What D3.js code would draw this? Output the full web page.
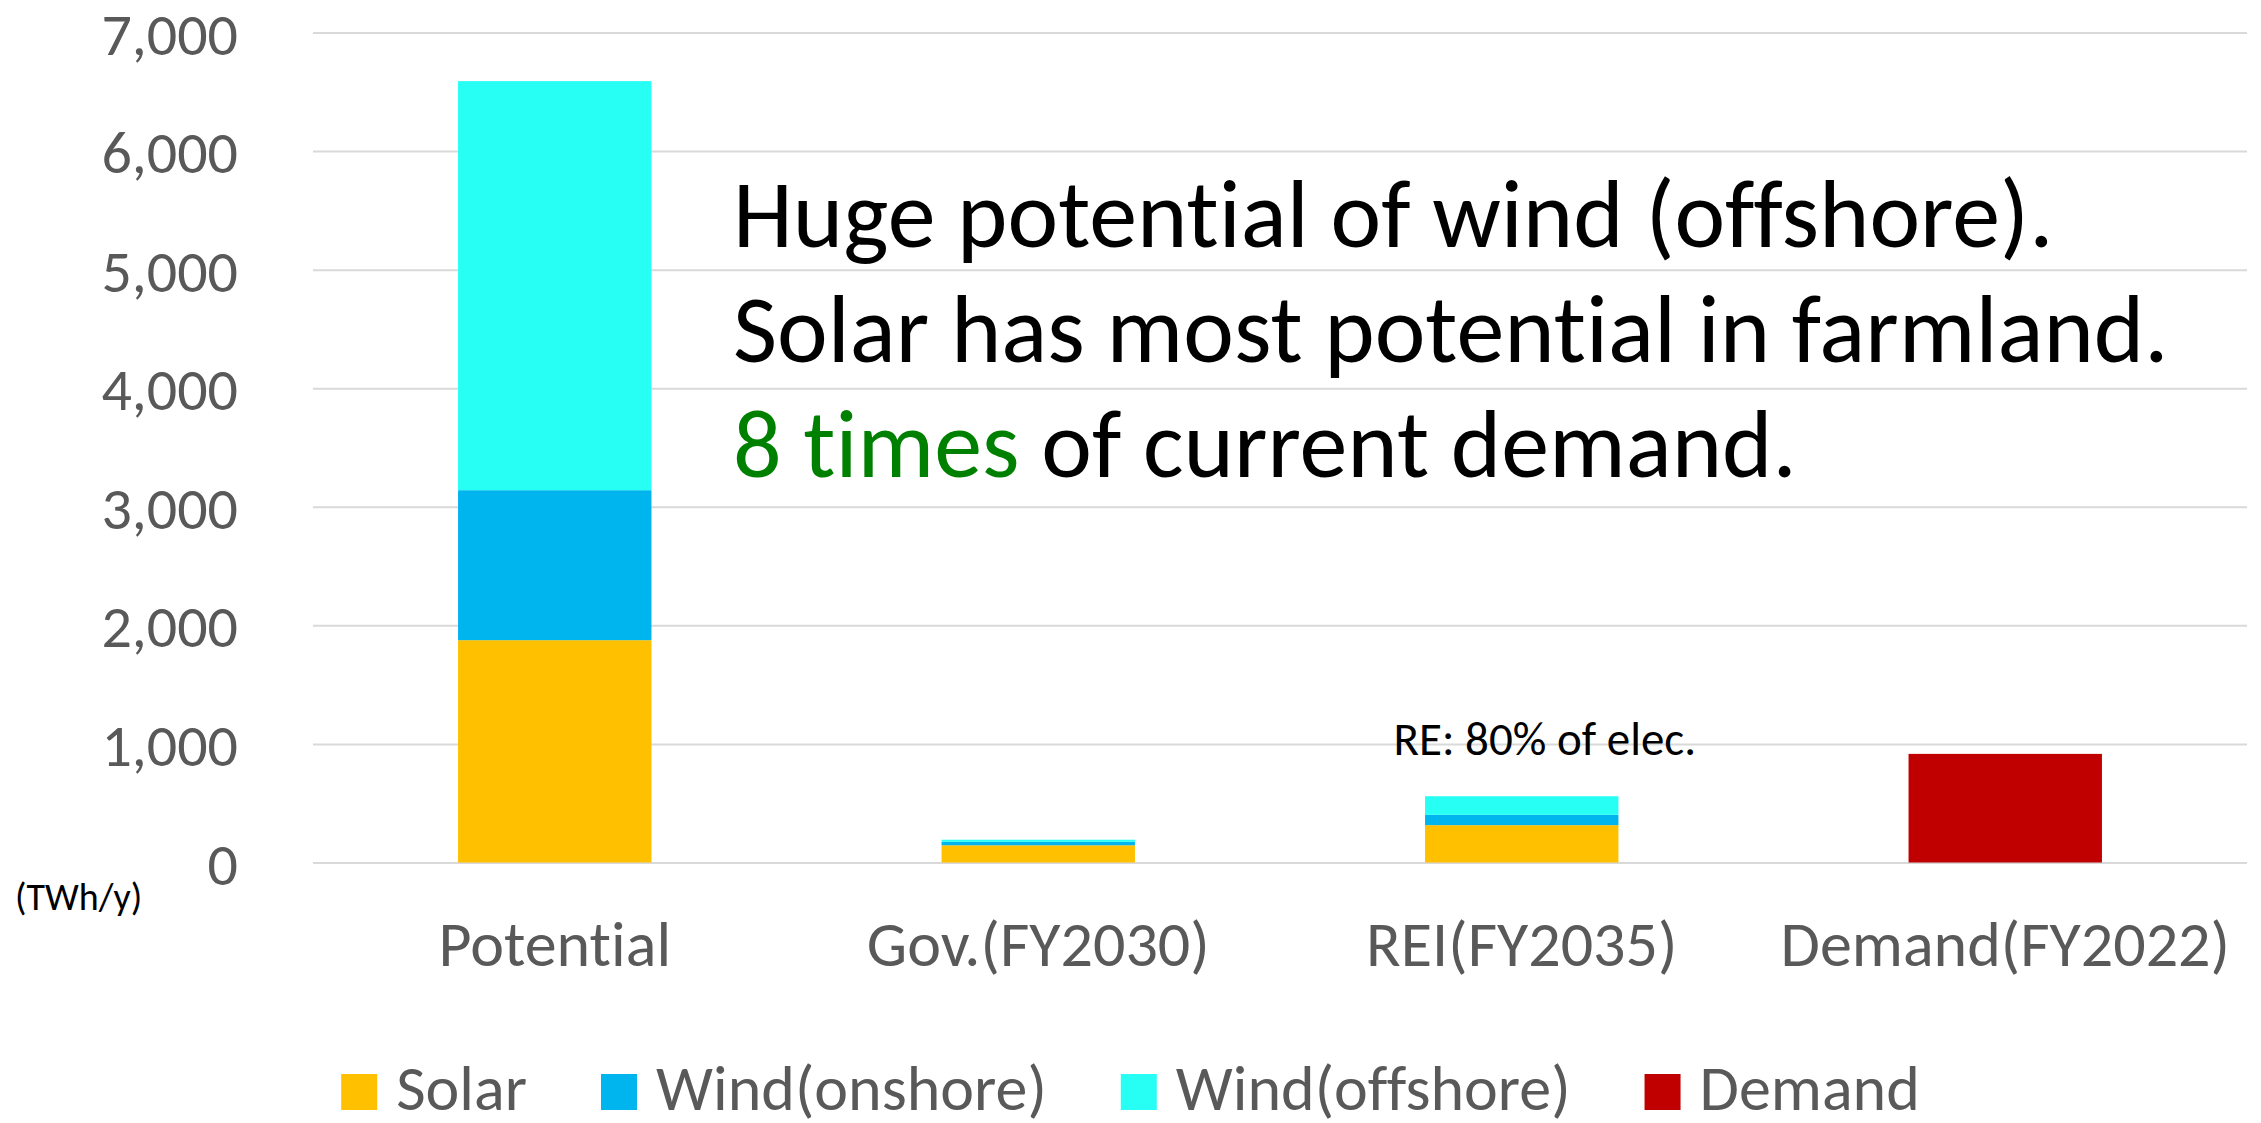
<!DOCTYPE html>
<html>
<head>
<meta charset="utf-8">
<script src="https://cdn.jsdelivr.net/npm/d3@7"></script>
<style>
  body { margin: 0; background: #fff; }
  svg text { font-family: Carlito, Calibri, Lato, "Noto Sans", sans-serif; font-variant-ligatures: none; }
  .y.axis line { stroke: #d9d9d9; stroke-width: 2; }
  .y.axis text { fill: #595959; }
</style>
</head>
<body>
<div id="stackedChart"></div>
<script>
// categories and series (TWh/y)
var categories = ['Potential', 'Gov.(FY2030)', 'REI(FY2035)', 'Demand(FY2022)'];
var seriesNames = ['Solar', 'Wind(onshore)', 'Wind(offshore)', 'Demand'];
var solar    = [1875, 145, 315, 0];
var onshore  = [1265, 30, 87, 0];
var offshore = [3450, 17, 157, 0];
var demand   = [0, 0, 0, 916];
var yTicks = [0, 1000, 2000, 3000, 4000, 5000, 6000, 7000];
var colors = ['#FFC000', '#00B4EE', '#28FFF4', '#C00000'];

var W = 2261, H = 1123;
var margin = { top: 32.5, bottom: 260.5, left: 313, right: 14 };
var width = W - margin.left - margin.right;
var height = H - margin.top - margin.bottom;

var table = categories.map(function(c, i) {
  return { cat: c, 'Solar': solar[i], 'Wind(onshore)': onshore[i], 'Wind(offshore)': offshore[i], 'Demand': demand[i] };
});

var svg = d3.select('#stackedChart').append('svg')
  .attr('width', W)
  .attr('height', H);

var g = svg.append('g').attr('transform', 'translate(' + margin.left + ',' + margin.top + ')');

var xscale = d3.scaleBand().domain(categories).range([0, width]).paddingInner(0.6).paddingOuter(0.3);
var yscale = d3.scaleLinear().domain([0, 7000]).range([height, 0]);
var zscale = d3.scaleOrdinal().domain(seriesNames).range(colors);

// gridlines + tick labels
var yaxis = d3.axisLeft(yscale).tickValues(yTicks).tickSize(-width).tickPadding(75).tickFormat(d3.format(','));
var g_yaxis = g.append('g').attr('class', 'y axis').call(yaxis);
g_yaxis.select('.domain').remove();
g_yaxis.selectAll('text').attr('font-size', 60).attr('dy', '0.36em');

// stacked bars
var stack = d3.stack().keys(seriesNames);
var layers = g.selectAll('.layer')
  .data(stack(table))
  .enter().append('g')
  .attr('class', 'layer')
  .attr('fill', function(d) { return zscale(d.key); });

layers.selectAll('rect')
  .data(function(d) { return d; })
  .enter().append('rect')
  .attr('x', function(d) { return xscale(d.data.cat); })
  .attr('width', xscale.bandwidth())
  .attr('y', function(d) { return yscale(d[1]); })
  .attr('height', function(d) { return yscale(d[0]) - yscale(d[1]); });

// category labels
g.selectAll('.cat-label')
  .data(categories)
  .enter().append('text')
  .attr('class', 'cat-label')
  .attr('x', function(d) { return xscale(d) + xscale.bandwidth() / 2; })
  .attr('y', height + 103)
  .attr('text-anchor', 'middle')
  .attr('font-size', 64)
  .attr('fill', '#595959')
  .text(function(d) { return d; });

// unit label
svg.append('text')
  .attr('x', 15).attr('y', 910)
  .attr('font-size', 38)
  .attr('fill', '#000')
  .text('(TWh/y)');

// note above REI bar
g.append('text')
  .attr('x', xscale('REI(FY2035)') + xscale.bandwidth() / 2 + 23)
  .attr('y', yscale(0) - 108)
  .attr('text-anchor', 'middle')
  .attr('font-size', 47)
  .attr('fill', '#000')
  .text('RE: 80% of elec.');

// big annotation
var note = svg.append('text').attr('font-size', 96).attr('fill', '#000');
note.append('tspan').attr('x', 733).attr('y', 247).text('Huge potential of wind (offshore).');
note.append('tspan').attr('x', 733).attr('y', 362).text('Solar has most potential in farmland.');
var l3 = note.append('tspan').attr('x', 733).attr('y', 477);
l3.append('tspan').attr('fill', '#008000').text('8 times');
l3.append('tspan').text(' of current demand.');

// legend
var legend = svg.append('g').attr('class', 'legend');
var lx = 0;
seriesNames.forEach(function(name) {
  var item = legend.append('g').attr('transform', 'translate(' + lx + ',0)');
  item.append('rect').attr('x', 0).attr('y', -36).attr('width', 36).attr('height', 36).attr('fill', zscale(name));
  var t = item.append('text').attr('x', 55).attr('y', 0).attr('font-size', 64).attr('fill', '#595959').text(name);
  lx += 55 + t.node().getComputedTextLength() + 74;
});
var legendWidth = lx - 74;
legend.attr('transform', 'translate(' + ((W - legendWidth) / 2) + ',1110)');
</script>
</body>
</html>
